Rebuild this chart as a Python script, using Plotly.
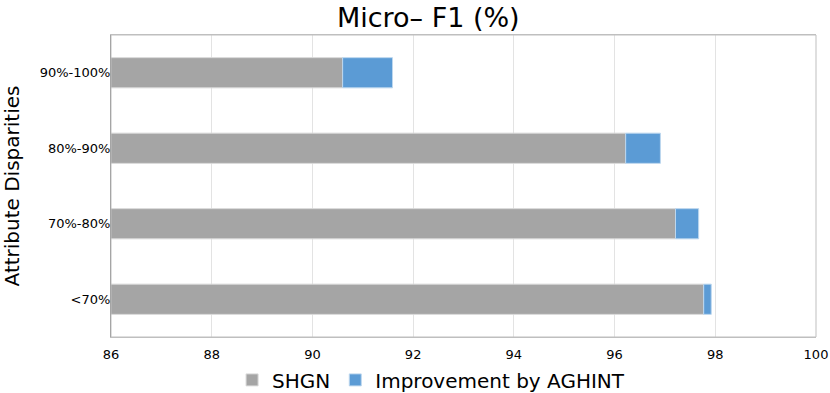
import plotly.graph_objects as go

categories = ['<70%', '70%-80%', '80%-90%', '90%-100%']
shgn = [97.77, 97.21, 96.22, 90.60]
improvement = [0.15, 0.46, 0.69, 0.99]

FONT = 'DejaVu Sans'

fig = go.Figure()
fig.add_trace(go.Bar(y=categories, x=shgn, orientation='h', name='SHGN', base=0,
                     marker=dict(color='#A5A5A5', line=dict(color='#D9D9D9', width=1))))
fig.add_trace(go.Bar(y=categories, x=improvement, orientation='h', name='Improvement by AGHINT',
                     base=shgn,
                     marker=dict(color='#5B9BD5', line=dict(color='#BDD7EE', width=1))))

fig.update_layout(
    width=830, height=393,
    barmode='overlay', bargap=0.6,
    plot_bgcolor='white', paper_bgcolor='white',
    font=dict(family=FONT, color='black'),
    title=dict(text='Micro– F1 (%)', x=0.516, xanchor='center', y=0.98, yanchor='top',
               font=dict(size=27, color='black')),
    margin=dict(l=111, r=14, t=35, b=56, autoexpand=False),
    xaxis=dict(range=[86, 100], dtick=2, showgrid=True, gridcolor='#E3E3E3', gridwidth=1,
               showline=True, linecolor='#BFBFBF', mirror=True, zeroline=False,
               tickfont=dict(size=13), ticks='', ticklabelstandoff=5, automargin=False),
    yaxis=dict(showline=True, linecolor='#8C8C8C', mirror=False, tickfont=dict(size=13),
               ticks='', ticklabelstandoff=-3, automargin=False,
               title=dict(text='Attribute Disparities', font=dict(size=20), standoff=20)),
    legend=dict(orientation='h', x=0.454, xanchor='center', y=-0.142, yanchor='middle',
                font=dict(size=20), traceorder='normal', itemwidth=30),
    showlegend=True,
)
fig.add_shape(type='rect', xref='paper', yref='paper', x0=0, y0=0, x1=1, y1=1,
              line=dict(color='#BFBFBF', width=1))

# page body has a default 8px margin; drop it so the figure sits at the window corner
fig.write_html('out.html', config={'displayModeBar': False},
               post_script="document.body.style.margin='0px';")
